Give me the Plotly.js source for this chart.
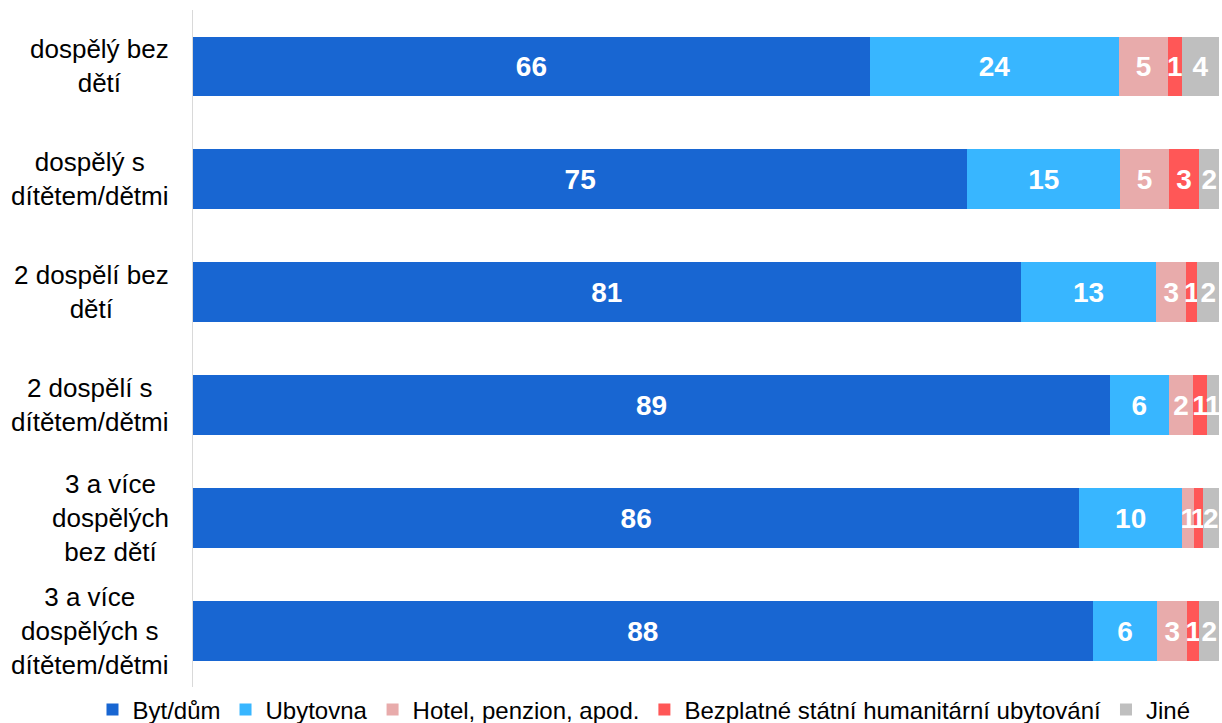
<!DOCTYPE html>
<html>
<head>
<meta charset="utf-8">
<script src="https://cdn.plot.ly/plotly-3.0.1.min.js"></script>
<style>html,body{margin:0;padding:0;background:#fff;}#chart{width:1222px;height:723px;}</style>
</head>
<body>
<div id="chart"></div>
<script>
const categories = [
  "dospělý bez<br>dětí",
  "dospělý s<br>dítětem/dětmi",
  "2 dospělí bez<br>dětí",
  "2 dospělí s<br>dítětem/dětmi",
  "3 a více<br>dospělých<br>bez dětí",
  "3 a více<br>dospělých s<br>dítětem/dětmi"
];
const seriesNames = ["Byt/dům", "Ubytovna", "Hotel, penzion, apod.", "Bezplatné státní humanitární ubytování", "Jiné"];
const bytDum     = [65.9, 75.4, 80.6, 89.3, 86.3, 87.6];
const ubytovna   = [24.3, 14.9, 13.2, 5.7, 10.0, 6.3];
const hotel      = [4.7, 4.7, 2.9, 2.4, 1.2, 2.9];
const bezplatne  = [1.4, 3.0, 1.1, 1.3, 0.8, 1.2];
const jine       = [3.6, 1.9, 2.1, 1.2, 1.6, 1.9];
const colors = ["#1866D2", "#38B6FF", "#E8ABAB", "#FF5757", "#BFBFBF"];

const seriesValues = [bytDum, ubytovna, hotel, bezplatne, jine];
const traces = seriesValues.map((vals, i) => ({
  type: "bar",
  orientation: "h",
  name: seriesNames[i],
  y: categories,
  x: vals,
  marker: {color: colors[i]},
  texttemplate: "%{x:.0f}",
  textposition: "inside",
  insidetextanchor: "middle",
  textangle: 0,
  constraintext: "none",
  cliponaxis: false,
  textfont: {family: "Liberation Sans, Arial, sans-serif", size: 28, color: "#ffffff", weight: "bold"},
  hoverinfo: "skip"
}));

const plotStart = 193 / 1220;

const annotations = categories.map(c => ({
  xref: "paper", yref: "y",
  x: plotStart, y: c,
  xanchor: "right", yanchor: "middle",
  xshift: -22,
  align: "center",
  text: c,
  showarrow: false,
  font: {family: "Liberation Sans, Arial, sans-serif", size: 26, color: "#000000"}
}));

const layout = {
  width: 1222, height: 723,
  margin: {l: 0, r: 2, t: 10, b: 35, pad: 0},
  barmode: "stack",
  bargap: 0.47,
  paper_bgcolor: "#ffffff",
  plot_bgcolor: "#ffffff",
  showlegend: true,
  legend: {
    orientation: "h",
    xref: "container", yref: "container",
    x: 0.527, xanchor: "center",
    y: 0.018, yanchor: "middle",
    font: {family: "Liberation Sans, Arial, sans-serif", size: 24, color: "#000000"},
    traceorder: "normal",
    itemwidth: 30,
    tracegroupgap: 0
  },
  xaxis: {range: [0, 100], domain: [plotStart, 1], visible: false, fixedrange: true},
  yaxis: {
    autorange: "reversed",
    showticklabels: false,
    ticks: "",
    showgrid: false,
    zeroline: false,
    showline: true,
    linecolor: "#D9D9D9",
    linewidth: 1
  },
  annotations: annotations
};

Plotly.newPlot("chart", traces, layout, {displayModeBar: false, staticPlot: true});
</script>
</body>
</html>
